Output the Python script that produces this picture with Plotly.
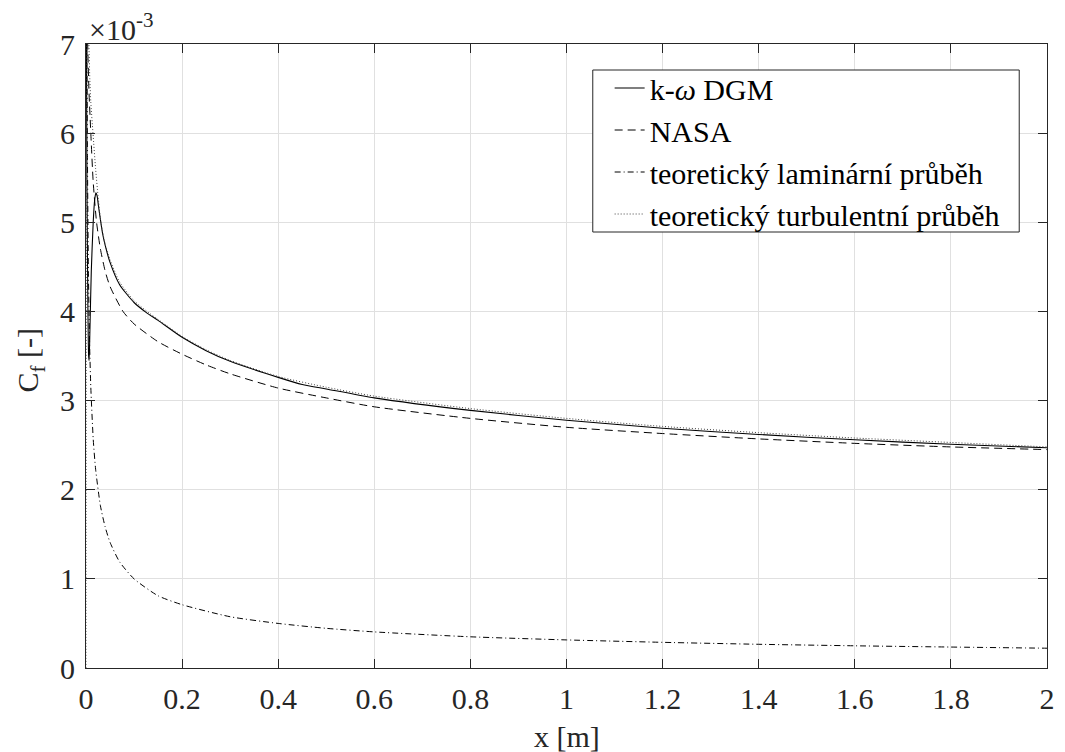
import plotly.graph_objects as go

# Values of C_f are in units of 1e-3 (axis multiplier shown as x10^-3)
x_dgm = [0.0005, 0.002, 0.004, 0.0055, 0.0065, 0.008, 0.011, 0.015, 0.018, 0.0206, 0.023, 0.026,
         0.03, 0.035, 0.04, 0.05, 0.07, 0.1, 0.125, 0.15, 0.2, 0.25, 0.3, 0.4, 0.45, 0.5,
         0.6, 0.8, 1.0, 1.2, 1.4, 1.6, 1.8, 2.0]
cf_dgm = [7.6, 5.4, 4.0, 3.5, 3.45, 3.75, 4.45, 5.0, 5.25, 5.33, 5.3, 5.18,
          5.03, 4.86, 4.74, 4.55, 4.3, 4.1, 3.99, 3.9, 3.71, 3.56, 3.44, 3.26, 3.18, 3.13,
          3.03, 2.89, 2.78, 2.69, 2.62, 2.56, 2.51, 2.47]

x_nasa = [0.0015, 0.0035, 0.006, 0.01, 0.015, 0.022, 0.03, 0.04, 0.05, 0.077, 0.1, 0.15,
          0.2, 0.25, 0.3, 0.4, 0.5, 0.6, 0.8, 1.0, 1.2, 1.4, 1.6, 1.8, 2.0]
cf_nasa = [7.9, 7.0, 6.5, 6.0, 5.45, 5.0, 4.7, 4.45, 4.28, 4.0, 3.86, 3.66,
           3.52, 3.40, 3.30, 3.14, 3.03, 2.93, 2.80, 2.70, 2.63, 2.57, 2.52, 2.48, 2.45]

x_lam = [0.0015, 0.002, 0.003, 0.005, 0.0075, 0.01, 0.015, 0.02, 0.03, 0.04, 0.05, 0.07, 0.1,
         0.15, 0.2, 0.3, 0.4, 0.5, 0.6, 0.8, 1.0, 1.2, 1.4, 1.6, 1.8, 2.0]
cf_lam = [8.1, 7.0, 5.75, 4.45, 3.64, 3.15, 2.57, 2.23, 1.82, 1.58, 1.41, 1.19, 1.0,
          0.81, 0.71, 0.575, 0.50, 0.445, 0.405, 0.35, 0.315, 0.288, 0.266, 0.249, 0.235, 0.222]

x_turb = [0.0, 0.003, 0.006, 0.008, 0.01, 0.0145, 0.02, 0.025, 0.031, 0.04, 0.05, 0.07, 0.1,
          0.132, 0.15, 0.2, 0.25, 0.3, 0.4, 0.5, 0.6, 0.8, 1.0, 1.2, 1.4, 1.6, 1.8, 2.0]
cf_turb = [0.0, 7.7, 7.0, 6.6, 6.35, 6.0, 5.6, 5.3, 5.0, 4.75, 4.58, 4.33, 4.12,
           3.98, 3.91, 3.72, 3.57, 3.45, 3.27, 3.15, 3.05, 2.91, 2.80, 2.71, 2.64, 2.58, 2.53, 2.48]

names = ["k-<i>ω</i> DGM", "NASA", "teoretický laminární průběh", "teoretický turbulentní průběh"]

x_ticks = [0, 0.2, 0.4, 0.6, 0.8, 1, 1.2, 1.4, 1.6, 1.8, 2]
x_tick_labels = ["0", "0.2", "0.4", "0.6", "0.8", "1", "1.2", "1.4", "1.6", "1.8", "2"]
y_ticks = [0, 1, 2, 3, 4, 5, 6, 7]
y_tick_labels = ["0", "1", "2", "3", "4", "5", "6", "7"]

FONT = "Liberation Serif, Times New Roman, serif"
AX = "#262626"
FS = 30

# plot area geometry (pixels)
L, R, T, B = 86, 1055, 44, 668
W, H = R - L, B - T


def px(xp):
    return (xp - L) / W


def py(yp):
    return (B - yp) / H


fig = go.Figure()
fig.add_trace(go.Scatter(x=x_dgm, y=cf_dgm, mode="lines", name=names[0],
                         line=dict(color="black", width=1.1, shape="spline", smoothing=0.6)))
fig.add_trace(go.Scatter(x=x_nasa, y=cf_nasa, mode="lines", name=names[1],
                         line=dict(color="black", width=1, dash="8px,5px", shape="spline", smoothing=0.6)))
fig.add_trace(go.Scatter(x=x_lam, y=cf_lam, mode="lines", name=names[2],
                         line=dict(color="black", width=1, dash="6px,3px,1px,3px", shape="spline", smoothing=0.6)))
fig.add_trace(go.Scatter(x=x_turb, y=cf_turb, mode="lines", name=names[3],
                         line=dict(color="#444444", width=1, dash="1px,2px", shape="spline", smoothing=0.6)))

axis_common = dict(
    showline=True, linecolor=AX, linewidth=1, mirror="ticks",
    ticks="inside", ticklen=9, tickcolor=AX, tickwidth=1,
    showgrid=True, gridcolor="#e0e0e0", gridwidth=1, zeroline=False,
    tickfont=dict(family=FONT, size=FS, color=AX),
)

fig.update_xaxes(range=[0, 2], tickvals=x_ticks, ticktext=x_tick_labels,
                 ticklabelstandoff=4, **axis_common)
fig.update_yaxes(range=[0, 7], tickvals=y_ticks, ticktext=y_tick_labels,
                 ticklabelstandoff=4, **axis_common)

fig.update_layout(
    width=1065, height=752,
    margin=dict(l=L, r=1065 - R, t=T, b=752 - B),
    paper_bgcolor="white", plot_bgcolor="white",
    font=dict(family=FONT, size=FS, color="black"),
    showlegend=True,
    legend=dict(x=px(614), y=py(62), xanchor="left", yanchor="top",
                bgcolor="rgba(0,0,0,0)", borderwidth=0,
                font=dict(family=FONT, size=FS, color="black"),
                itemwidth=30, tracegroupgap=0),
    shapes=[
        dict(type="rect", xref="paper", yref="paper",
             x0=px(597), x1=px(1027), y0=py(232), y1=py(70),
             line=dict(color=AX, width=1), fillcolor="white", layer="above"),
    ],
    annotations=[
        dict(text="x [m]", xref="paper", yref="paper", x=0.5, y=py(736),
             xanchor="center", yanchor="middle", showarrow=False,
             font=dict(family=FONT, size=FS, color=AX)),
        dict(text="C<sub>f</sub> [-]", xref="paper", yref="paper", x=px(30), y=py(360),
             xanchor="center", yanchor="middle", textangle=-90, showarrow=False,
             font=dict(family=FONT, size=FS, color=AX)),
        dict(text="×10<sup>-3</sup>", xref="paper", yref="paper", x=px(87), y=py(27),
             xanchor="left", yanchor="middle", showarrow=False,
             font=dict(family=FONT, size=FS, color=AX)),
    ],
)

fig.write_html("out.html")
